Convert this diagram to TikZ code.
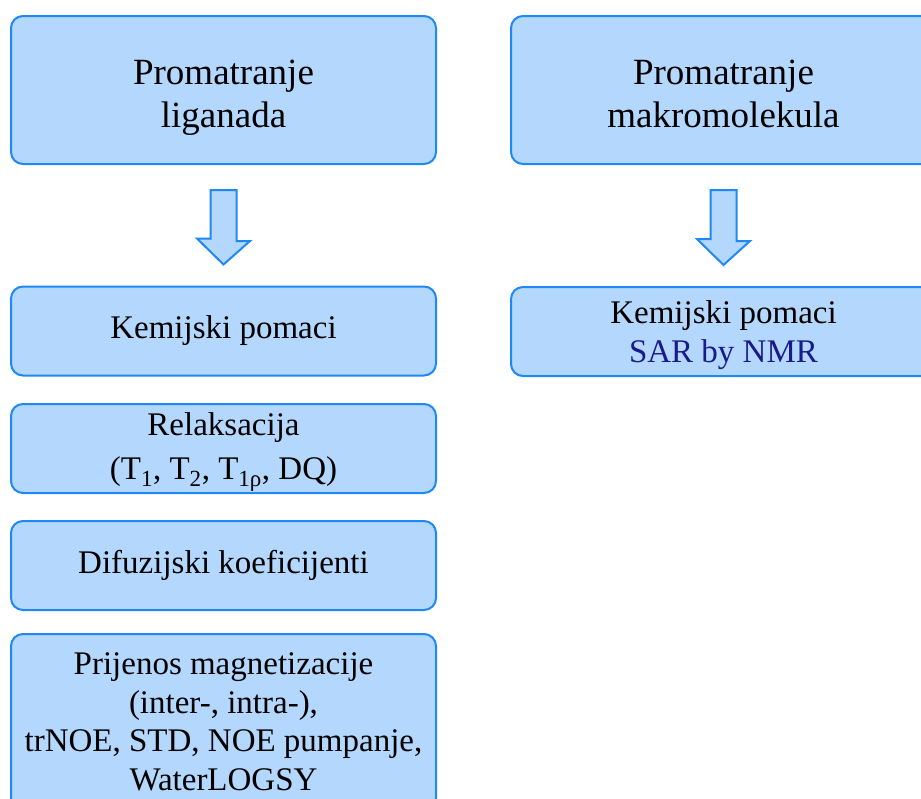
\documentclass[tikz,border=0pt]{standalone}
\usepackage{fontspec}
\setmainfont{Liberation Serif}
\usetikzlibrary{calc}
\definecolor{BoxFill}{HTML}{B3D7FD}
\definecolor{BoxLine}{HTML}{1E88F5}
\definecolor{NavyText}{HTML}{1A1A8C}

\begin{document}
\begin{tikzpicture}[
    x=1pt, y=-1pt,
    box/.style={rectangle, rounded corners=12pt, draw=BoxLine, fill=BoxFill, line width=2pt, minimum width=425pt, inner sep=0pt, align=center, text=black},
    headbox/.style={box, minimum height=148pt, font=\fontsize{37}{43}\selectfont},
    itembox/.style={box, minimum height=89pt, font=\fontsize{33}{38.5}\selectfont},
    blockarrow/.style={draw=BoxLine, fill=BoxFill, line width=2pt, line join=miter}
  ]
  \useasboundingbox (0,0) rectangle (921,798);

  % Headers
  \node[headbox] (lig) at (223.5,90) {\rule{0pt}{40pt}Promatranje\\liganada\rule[-9pt]{0pt}{9pt}};
  \node[headbox] (mak) at (723.5,90) {\rule{0pt}{40pt}Promatranje\\makromolekula\rule[-9pt]{0pt}{9pt}};

  % Ligand side
  \node[itembox] (kem) at (223.5,331) {Kemijski pomaci};
  \node[itembox] (rel) at (223.5,448.5) {\rule{0pt}{30pt}Relaksacija\\[5pt](T\textsubscript{1}, T\textsubscript{2}, T\textsubscript{1ρ}, DQ)};
  \node[itembox] (dif) at (223.5,565.5) {Difuzijski koeficijenti};
  \node[itembox, minimum height=176pt] (pri) at (223.5,722) {Prijenos magnetizacije\\(inter-, intra-),\\trNOE, STD, NOE pumpanje,\\WaterLOGSY};

  % Macromolecule side
  \node[itembox] (sar) at (723.5,331.5) {\rule{0pt}{30pt}Kemijski pomaci\\\textcolor{NavyText}{SAR by NMR}};

  % Block arrows
  \foreach \src/\dst in {lig/kem, mak/sar} {
    \draw[blockarrow] ($(\src.south)+(-13,25)$) -- ++(26,0) -- ++(0,51) -- ++(13.5,0)
      -- ($(\dst.north)+(0,-21)$) -- ++(-26.5,-26) -- ++(13.5,0) -- cycle;
  }
\end{tikzpicture}
\end{document}
